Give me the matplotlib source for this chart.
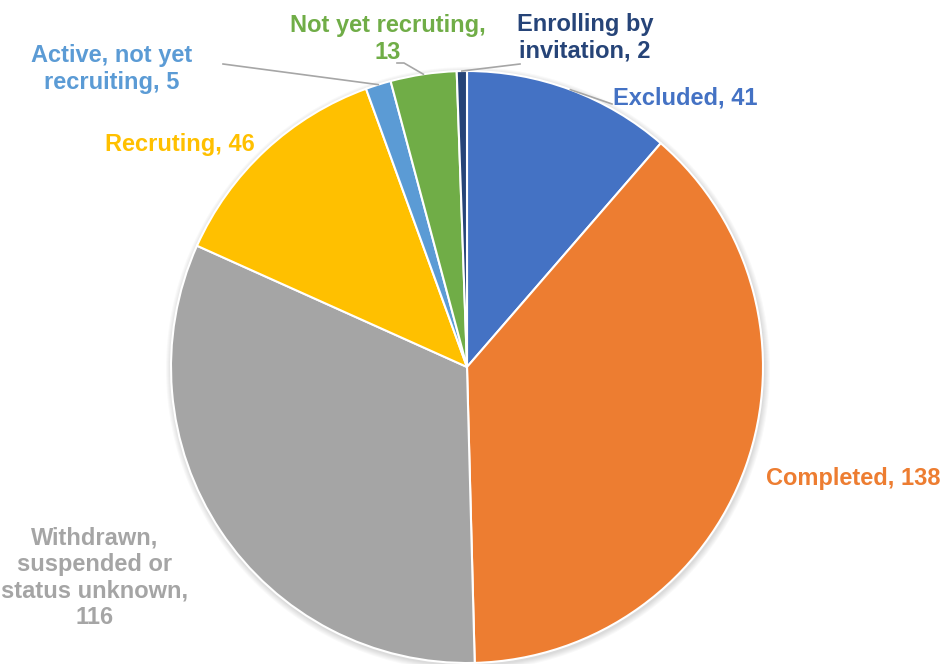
import numpy as np
import matplotlib.pyplot as plt

plt.rcParams['font.family'] = ['Liberation Sans', 'DejaVu Sans']

# Data
labels = ['Excluded', 'Completed', 'Withdrawn,\nsuspended or\nstatus unknown,\n', 'Recruting',
          'Active, not yet\nrecruiting', 'Not yet recruting,\n', 'Enrolling by\ninvitation']
values = [41, 138, 116, 46, 5, 13, 2]
colors = ['#4472C4', '#ED7D31', '#A5A5A5', '#FFC000', '#5B9BD5', '#70AD47', '#264478']

W, H = 949, 664
fig = plt.figure(figsize=(W / 100, H / 100), dpi=100)
ax = fig.add_axes([0, 0, 1, 1])

cx, cy, r = 467, H - 367, 296

# soft shadow
for i in range(6):
    ax.add_patch(plt.Circle((cx + 1, cy - 2), r + 6 - i, color='black', alpha=0.025, lw=0, zorder=0))

wedges, _ = ax.pie(values, colors=colors, startangle=90, counterclock=False,
                   center=(cx, cy), radius=r, frame=True,
                   wedgeprops=dict(edgecolor='white', linewidth=1.5))
ax.set_xlim(0, W)
ax.set_ylim(0, H)
ax.set_aspect('equal')
ax.axis('off')

# label positions (pixel coords from top)
pos = [(685, 98), (853, 479), (95, 578), (180, 145), (112, 69), (388, 39), (585, 38)]
for lab, v, c, (x, y) in zip(labels, values, colors, pos):
    txt = lab + ('' if lab.endswith('\n') else ', ') + str(v)
    ax.text(x, H - y, txt, color=c, fontsize=17, fontweight='bold',
            ha='center', va='center', linespacing=1.2)

# leader lines for small slices
def edge_point(w, rr):
    ang = np.deg2rad((w.theta1 + w.theta2) / 2)
    return cx + rr * np.cos(ang), cy + rr * np.sin(ang)

lead = {0: [(612, 104)], 4: [(223, 64)], 5: [(397, 63), (404, 63)], 6: [(520, 64)]}
for idx, pts in lead.items():
    ex, ey = edge_point(wedges[idx], r)
    xs = [p[0] for p in pts] + [ex]
    ys = [H - p[1] for p in pts] + [ey]
    ax.plot(xs, ys, color='#A6A6A6', lw=1.2, zorder=1 if idx == 0 else 5)

fig.savefig('out.png', dpi=100)
